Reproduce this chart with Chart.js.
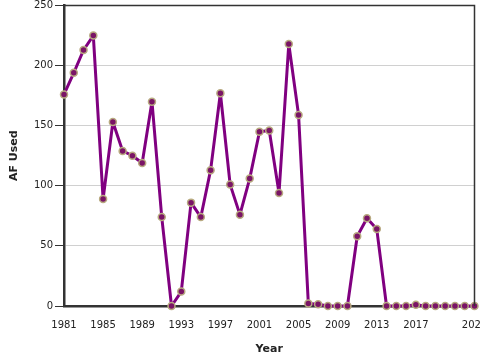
<!DOCTYPE html>
<html>
<head>
<meta charset="utf-8">
<script src="https://cdn.jsdelivr.net/npm/chart.js@4"></script>
<style>
  html, body { margin: 0; padding: 0; background: #fff; overflow: hidden; }
  #wrap { width: 480px; height: 360px; }
</style>
</head>
<body>
<div id="wrap"><canvas id="chart" width="480" height="360"></canvas></div>
<script>
const years = [1981, 1982, 1983, 1984, 1985, 1986, 1987, 1988, 1989, 1990,
  1991, 1992, 1993, 1994, 1995, 1996, 1997, 1998, 1999, 2000,
  2001, 2002, 2003, 2004, 2005, 2006, 2007, 2008, 2009, 2010,
  2011, 2012, 2013, 2014, 2015, 2016, 2017, 2018, 2019, 2020,
  2021, 2022, 2023];
const afUsed = [176, 194, 213, 225, 89, 153, 129, 125, 119, 170,
  74, 0, 12, 86, 74, 113, 177, 101, 76, 106,
  145, 146, 94, 218, 159, 2, 1.5, 0, 0, 0,
  58, 73, 64, 0, 0, 0, 1, 0, 0, 0,
  0, 0, 0];
const xTicks = [1981, 1985, 1989, 1993, 1997, 2001, 2005, 2009, 2013, 2017, 2021, 2023];
const xLabelled = [1981, 1985, 1989, 1993, 1997, 2001, 2005, 2009, 2013, 2017, 2023];
const yTicks = [0, 50, 100, 150, 200, 250];

const axisFont = { family: 'DejaVu Sans', size: 10 };
const titleFont = { family: 'DejaVu Sans', size: 11, weight: 'bold' };

// box round the plot area (top and right edges)
const frame = {
    id: 'frame',
    afterDraw(chart) {
        const { ctx, chartArea: a } = chart;
        ctx.save();
        ctx.strokeStyle = '#333';
        ctx.lineWidth = 1.5;
        ctx.beginPath();
        ctx.moveTo(a.left, a.top);
        ctx.lineTo(a.right, a.top);
        ctx.lineTo(a.right, a.bottom);
        ctx.stroke();
        ctx.restore();
    }
};

new Chart(document.getElementById('chart').getContext('2d'), {
    type: 'line',
    data: {
        datasets: [{
            data: years.map((y, i) => ({ x: y, y: afUsed[i] })),
            borderColor: '#800080',
            borderWidth: 3,
            borderJoinStyle: 'round',
            pointRadius: 3.5,
            pointBackgroundColor: '#7a1466',
            pointBorderColor: '#b8aa80',
            pointBorderWidth: 1.5,
            tension: 0,
            clip: false
        }]
    },
    options: {
        responsive: false,
        animation: false,
        layout: { padding: { left: 4, top: 4, right: 4, bottom: 0 } },
        plugins: { legend: { display: false }, tooltip: { enabled: false } },
        scales: {
            x: {
                type: 'linear',
                min: 1981,
                max: 2023,
                afterBuildTicks: s => { s.ticks = xTicks.map(v => ({ value: v })); },
                afterFit: s => { s.height = 54; s.paddingRight = 0; s.paddingLeft = 0; },
                ticks: {
                    font: axisFont, color: '#222', maxRotation: 0, autoSkip: false,
                    padding: 5,
                    callback: v => xLabelled.includes(v) ? String(v) : ''
                },
                grid: { display: false, drawTicks: true, tickLength: 8, tickColor: '#333' },
                border: { color: '#333', width: 2.5 },
                title: { display: true, text: 'Year', font: titleFont, color: '#222', padding: { top: 6 } }
            },
            y: {
                min: 0,
                max: 250,
                afterBuildTicks: s => { s.ticks = yTicks.map(v => ({ value: v })); },
                afterFit: s => { s.width = 60; s.paddingTop = 0; s.paddingBottom = 0; },
                ticks: { font: axisFont, color: '#222', padding: 2 },
                grid: { color: '#d0d0d0', lineWidth: 1, tickLength: 9, tickColor: '#333' },
                border: { color: '#333', width: 2.5 },
                title: { display: true, text: 'AF Used', font: titleFont, color: '#222', padding: { top: 4, bottom: 0 } }
            }
        }
    },
    plugins: [frame]
});
</script>
</body>
</html>
